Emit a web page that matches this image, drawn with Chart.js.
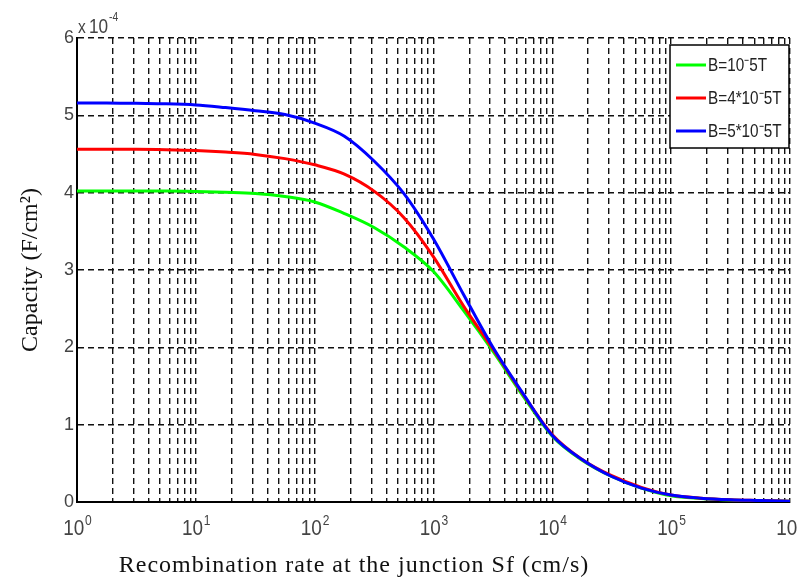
<!DOCTYPE html>
<html>
<head>
<meta charset="utf-8">
<script src="https://cdn.jsdelivr.net/npm/chart.js@4.4.1/dist/chart.umd.min.js"></script>
<style>
  body { margin: 0; background: #fff; }
  #wrap { width: 798px; height: 578px; }
</style>
</head>
<body>
<div id="wrap"><canvas id="chart" width="798" height="578"></canvas></div>
<script>
// ── data (capacity in units of 1e-4 F/cm²), read at quarter-decade steps ──
const sfValues = [1, 1.78, 3.16, 5.62, 10, 17.8, 31.6, 56.2, 100, 178, 316, 562, 1000, 1780, 3160, 5620,
  1e4, 1.78e4, 3.16e4, 5.62e4, 1e5, 1.78e5, 3.16e5, 5.62e5, 1e6];
const capB1 = [4.02, 4.02, 4.02, 4.02, 4.015, 4.005, 3.99, 3.95, 3.88, 3.73, 3.55, 3.30, 2.98, 2.48, 1.95, 1.38,
  0.85, 0.54, 0.33, 0.18, 0.08, 0.045, 0.025, 0.015, 0.01];
const capB4 = [4.56, 4.56, 4.56, 4.555, 4.545, 4.525, 4.495, 4.44, 4.36, 4.24, 4.02, 3.68, 3.17, 2.54, 1.98, 1.40,
  0.87, 0.55, 0.34, 0.19, 0.09, 0.05, 0.03, 0.02, 0.01];
const capB5 = [5.16, 5.16, 5.155, 5.15, 5.135, 5.10, 5.06, 5.01, 4.90, 4.73, 4.41, 3.99, 3.40, 2.69, 2.00, 1.41,
  0.86, 0.55, 0.33, 0.18, 0.09, 0.05, 0.03, 0.02, 0.01];
const seriesLabels = ["B=10⁻5T", "B=4*10⁻5T", "B=5*10⁻5T"];
const seriesColors = ["#00ff00", "#ff0000", "#0000ff"];
const xDecades = [0, 1, 2, 3, 4, 5, 6];
const yTickValues = [0, 1, 2, 3, 4, 5, 6];
const yExponent = "-4";
const xTitle = "Recombination rate at the junction Sf (cm/s)";
const yTitle = "Capacity (F/cm²)";

const SANS = '"Liberation Sans", Arial, sans-serif';
const SERIF = '"Liberation Serif", "Times New Roman", serif';

function toPoints(ys) {
  return sfValues.map((x, i) => ({ x, y: ys[i] }));
}

// draws "10" with a raised exponent, centred (or left-aligned) at x
function drawPow(ctx, x, baseline, exp, size, align, rise) {
  const sx = 0.86;
  ctx.font = size + "px " + SANS;
  const w1 = ctx.measureText("10").width * sx;
  const eSize = Math.round(size * 0.62);
  ctx.font = eSize + "px " + SANS;
  const w2 = ctx.measureText(exp).width * sx;
  const left = align === "left" ? x : x - (w1 + w2) / 2;
  ctx.save();
  ctx.translate(left, baseline);
  ctx.scale(sx, 1);
  ctx.font = size + "px " + SANS;
  ctx.fillText("10", 0, 0);
  ctx.font = eSize + "px " + SANS;
  ctx.fillText(exp, w1 / sx + 1, -size * (rise || 0.5));
  ctx.restore();
}

const textPlugin = {
  id: "texts",
  afterDraw(chart) {
    const ctx = chart.ctx;
    const xs = chart.scales.x;
    const area = chart.chartArea;
    ctx.save();
    ctx.textAlign = "left";
    ctx.textBaseline = "alphabetic";

    // x tick labels 10^n
    ctx.fillStyle = "#444";
    xDecades.forEach((d) => {
      drawPow(ctx, xs.getPixelForValue(Math.pow(10, d)), area.bottom + 33, String(d), 22, "center", 0.45);
    });

    // exponent above y axis
    ctx.save();
    ctx.translate(area.left + 1, area.top - 5);
    ctx.scale(0.86, 1);
    ctx.font = "18px " + SANS;
    ctx.fillText("x", 0, 0);
    ctx.restore();
    drawPow(ctx, area.left + 12, area.top - 5, yExponent, 20, "left", 0.6);

    // axis titles
    ctx.fillStyle = "#111";
    ctx.font = "24px " + SERIF;
    ctx.letterSpacing = "1px";
    ctx.textAlign = "center";
    ctx.fillText(xTitle, 354, 572);
    ctx.letterSpacing = "0px";
    ctx.save();
    ctx.translate(37, (area.top + area.bottom) / 2);
    ctx.rotate(-Math.PI / 2);
    ctx.font = "24px " + SERIF;
    ctx.fillText(yTitle, 0, 0);
    ctx.restore();

    // legend box
    const bx = area.right - 120, by = area.top + 7, bw = 119, bh = 103;
    ctx.fillStyle = "#fff";
    ctx.fillRect(bx, by, bw, bh);
    ctx.strokeStyle = "#000";
    ctx.lineWidth = 1.5;
    ctx.setLineDash([]);
    ctx.strokeRect(bx, by, bw, bh);
    ctx.textAlign = "left";
    ctx.textBaseline = "middle";
    seriesLabels.forEach((lab, i) => {
      const yy = by + 20 + i * 33;
      ctx.strokeStyle = seriesColors[i];
      ctx.lineWidth = 3;
      ctx.beginPath();
      ctx.moveTo(bx + 6, yy);
      ctx.lineTo(bx + 36, yy);
      ctx.stroke();
      ctx.save();
      ctx.translate(bx + 38, yy + 1);
      ctx.scale(0.85, 1);
      ctx.fillStyle = "#222";
      ctx.font = "18px " + SANS;
      ctx.fillText(lab, 0, 0);
      ctx.restore();
    });
    ctx.restore();
  },
};

const gridDash = [6, 4];

new Chart(document.getElementById("chart"), {
  type: "line",
  data: {
    datasets: [
      { label: seriesLabels[0], data: toPoints(capB1), borderColor: seriesColors[0], order: 3 },
      { label: seriesLabels[1], data: toPoints(capB4), borderColor: seriesColors[1], order: 2 },
      { label: seriesLabels[2], data: toPoints(capB5), borderColor: seriesColors[2], order: 1 },
    ],
  },
  options: {
    responsive: false,
    animation: false,
    devicePixelRatio: 1,
    layout: { padding: { left: 0, top: 38, right: 8, bottom: 0 } },
    elements: {
      point: { radius: 0 },
      line: { borderWidth: 3, cubicInterpolationMode: "monotone", fill: false },
    },
    plugins: { legend: { display: false }, tooltip: { enabled: false } },
    scales: {
      x: {
        type: "logarithmic",
        min: 1,
        max: 1e6,
        afterBuildTicks: (scale) => {
          const t = [];
          xDecades.forEach((d, i) => {
            for (let m = 1; m <= 9; m++) {
              if (i === xDecades.length - 1 && m > 1) break;
              t.push({ value: m * Math.pow(10, d), major: m === 1 });
            }
          });
          scale.ticks = t;
        },
        afterFit: (scale) => { scale.height = 76; },
        ticks: { display: false, autoSkip: false },
        grid: { color: "#111", lineWidth: 1.4, drawTicks: false },
        border: { display: true, color: "#000", width: 2, dash: gridDash },
      },
      y: {
        min: 0,
        max: 6,
        afterBuildTicks: (scale) => {
          scale.ticks = yTickValues.map((v) => ({ value: v }));
        },
        afterFit: (scale) => { scale.width = 77; },
        ticks: { color: "#444", font: { family: SANS, size: 18 }, padding: 3 },
        grid: { color: "#111", lineWidth: 1.4, drawTicks: false },
        border: { display: true, color: "#000", width: 2, dash: gridDash },
      },
    },
  },
  plugins: [textPlugin],
});
</script>
</body>
</html>
